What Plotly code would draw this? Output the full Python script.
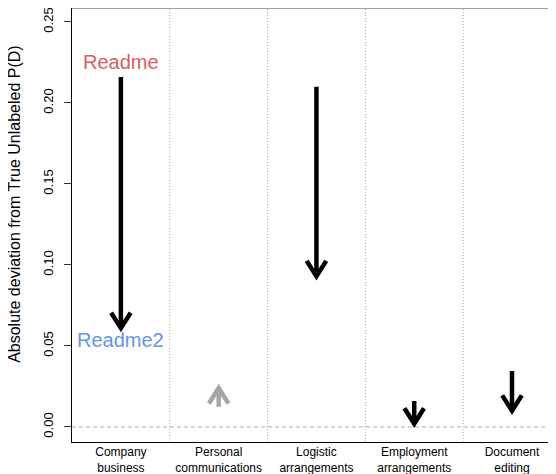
import plotly.graph_objects as go

categories = ["Company<br>business", "Personal<br>communications", "Logistic<br>arrangements",
              "Employment<br>arrangements", "Document<br>editing"]
start_vals = [0.216, 0.0125, 0.210, 0.016, 0.0345]
end_vals = [0.061, 0.024, 0.093, 0.002, 0.010]
arrow_colors = ["black", "#A6A6A6", "black", "black", "black"]
y_ticks = [0.00, 0.05, 0.10, 0.15, 0.20, 0.25]
y_ticktext = ["0.00", "0.05", "0.10", "0.15", "0.20", "0.25"]
label_top = "Readme"
label_bottom = "Readme2"
y_title = "Absolute deviation from True Unlabeled P(D)"

FONT = "Liberation Sans, Arial, Helvetica, sans-serif"
xs = list(range(1, len(categories) + 1))

fig = go.Figure()

# vertical dotted separators between categories
for i in xs[:-1]:
    fig.add_shape(type="line", x0=i + 0.5, x1=i + 0.5, y0=0, y1=1, xref="x", yref="paper",
                  line=dict(color="#A0A0A0", width=1, dash="1px,2px"), layer="below")

# dashed zero line
fig.add_shape(type="line", x0=0, x1=1, y0=0, y1=0, xref="paper", yref="y",
              line=dict(color="#B0B0B0", width=1, dash="4px,3px"), layer="below")

# top frame line
fig.add_shape(type="line", x0=0, x1=1, y0=1, y1=1, xref="paper", yref="paper",
              line=dict(color="#444444", width=1))

head_dx = 0.10
head_dy = 0.0095
for x, s, e, c in zip(xs, start_vals, end_vals, arrow_colors):
    sign = 1 if e > s else -1
    fig.add_trace(go.Scatter(x=[x, x], y=[s, e], mode="lines",
                             line=dict(color=c, width=4.5), hoverinfo="skip", showlegend=False))
    fig.add_trace(go.Scatter(x=[x - head_dx, x, x + head_dx],
                             y=[e - sign * head_dy, e, e - sign * head_dy], mode="lines",
                             line=dict(color=c, width=4.5), hoverinfo="skip", showlegend=False))

fig.add_annotation(x=1, y=0.2255, text=label_top, showarrow=False,
                   font=dict(family=FONT, size=20, color="#D65F5F"))
fig.add_annotation(x=1, y=0.0535, text=label_bottom, showarrow=False,
                   font=dict(family=FONT, size=20, color="#6495ED"))

# y-axis title
fig.add_annotation(x=0, xref="paper", xanchor="center", xshift=-57,
                   y=0.1377, yref="y", yanchor="middle", textangle=-90,
                   text=y_title, showarrow=False,
                   font=dict(family=FONT, size=16, color="black"))

fig.update_layout(
    width=548, height=466,
    margin=dict(l=64, r=0, t=0, b=32),
    plot_bgcolor="white", paper_bgcolor="white",
    font=dict(family=FONT, size=12, color="black"),
    showlegend=False,
    xaxis=dict(range=[0.5, 5.45], tickvals=xs, ticktext=categories,
               showgrid=False, zeroline=False, showline=True, linecolor="black", linewidth=1,
               ticks="", tickfont=dict(size=12), ticklabelstandoff=-1,
               automargin=False, fixedrange=True),
    yaxis=dict(range=[-0.0093, 0.2586], tickvals=y_ticks, ticktext=y_ticktext,
               showgrid=False, zeroline=False, showline=True, linecolor="black", linewidth=1,
               ticks="outside", ticklen=7, tickcolor="#333333", tickangle=-90,
               tickfont=dict(size=13), ticklabelstandoff=6, ticklabeloverflow="allow",
               automargin=False, fixedrange=True),
)

fig.write_html("out.html")
